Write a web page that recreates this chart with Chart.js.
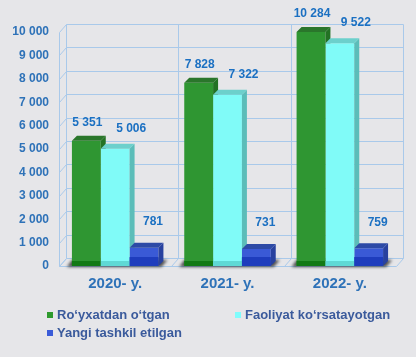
<!DOCTYPE html>
<html><head><meta charset="utf-8">
<script src="https://cdn.jsdelivr.net/npm/chart.js@4.4.1/dist/chart.umd.min.js"></script>
<style>html,body{margin:0;padding:0;background:#e6e6e9;overflow:hidden}#wrap{width:416px;height:357px}</style>
</head><body><div id="wrap"><canvas id="c" width="416" height="357"></canvas></div>
<script>
// ---- data ----
const categories = ['2020- y.', '2021- y.', '2022- y.'];
const seriesNames = ['Ro\u2018yxatdan o\u2018tgan', 'Faoliyat ko\u2018rsatayotgan', 'Yangi tashkil etilgan'];
const registered = [5351, 7828, 10284];
const active = [5006, 7322, 9522];
const newlyCreated = [781, 731, 759];
const yTicks = [0, 1000, 2000, 3000, 4000, 5000, 6000, 7000, 8000, 9000, 10000];

// ---- styles ----
const FONT = '"Liberation Sans", Arial, sans-serif';
const faces = [
  {front:'#2f9632', bottom:'#127914', top:'#2a762b', side:'#237224', legend:'#2e9a2e', strip:5},
  {front:'#80fbf8', bottom:'#5fd9d5', top:'#6cd0cc', side:'#5bbdb9', legend:'#80fcfc', strip:5},
  {front:'#3a5ad6', bottom:'#1e3dbd', top:'#2d4aa6', side:'#28419f', legend:'#3a5bd8', strip:9}
];
const labelDx = [1, 16, 9];
const labelDy = [18, 20, 26];
const DEPTH = {x:5, y:5};
const WALL = {x:7, y:8};
const GRID = '#a9c9ea';
const fmt = v => String(v).replace(/\B(?=(\d{3})+(?!\d))/g, ' ');

function crisp(v){ return Math.round(v) + 0.5; }

const threeD = {
  id: 'threeD',
  beforeDatasetsDraw(chart) {
    const ctx = chart.ctx, a = chart.chartArea;
    const xs = chart.scales.x, ys = chart.scales.y;
    ctx.save();
    ctx.strokeStyle = GRID; ctx.lineWidth = 1;
    const L = a.left, R = a.right;
    // horizontal lines on back wall + left wall diagonals
    yTicks.forEach(v => {
      const y = ys.getPixelForValue(v);
      ctx.beginPath();
      ctx.moveTo(crisp(L), crisp(y));
      ctx.lineTo(crisp(L + WALL.x), crisp(y - WALL.y));
      ctx.lineTo(crisp(R + WALL.x), crisp(y - WALL.y));
      ctx.stroke();
    });
    // front floor edge
    ctx.beginPath(); ctx.moveTo(crisp(L), crisp(a.bottom)); ctx.lineTo(crisp(R), crisp(a.bottom)); ctx.stroke();
    // left wall front vertical
    ctx.beginPath(); ctx.moveTo(crisp(L), crisp(a.top)); ctx.lineTo(crisp(L), crisp(a.bottom)); ctx.stroke();
    // category boundaries: back wall verticals + floor diagonals
    const n = categories.length;
    const step = (R - L) / n;
    for (let i = 0; i <= n; i++) {
      const xb = L + step * i;
      ctx.beginPath();
      ctx.moveTo(crisp(xb + WALL.x), crisp(a.top - WALL.y));
      ctx.lineTo(crisp(xb + WALL.x), crisp(a.bottom - WALL.y));
      ctx.stroke();
      ctx.beginPath();
      ctx.moveTo(crisp(xb), crisp(a.bottom));
      ctx.lineTo(crisp(xb + WALL.x), crisp(a.bottom - WALL.y));
      ctx.stroke();
    }
    // shadows under bar groups
    const m0 = chart.getDatasetMeta(0), m2 = chart.getDatasetMeta(2);
    ctx.filter = 'blur(1.5px)';
    ctx.fillStyle = 'rgba(30,30,30,0.75)';
    for (let i = 0; i < n; i++) {
      const g = m0.data[i], b = m2.data[i];
      const gL = g.x - g.width / 2, bR = b.x + b.width / 2, base = g.base;
      ctx.beginPath();
      ctx.moveTo(gL - 5, base + 1);
      ctx.lineTo(gL, base - 6);
      ctx.lineTo(bR + 9, base - 6);
      ctx.lineTo(bR + 3, base + 1);
      ctx.closePath();
      ctx.fill();
    }
    ctx.restore();
  },
  afterDatasetsDraw(chart) {
    const ctx = chart.ctx, a = chart.chartArea;
    const metas = [0, 1, 2].map(i => chart.getDatasetMeta(i));
    const n = categories.length;
    ctx.save();
    for (let c = 0; c < n; c++) {
      for (let d = 0; d < 3; d++) {
        const el = metas[d].data[c];
        const f = faces[d];
        const l = el.x - el.width / 2, r = el.x + el.width / 2;
        const top = Math.max(el.y, a.top), base = el.base;
        // bottom darker strip on front face
        ctx.fillStyle = f.bottom;
        ctx.fillRect(l, base - f.strip, r - l, f.strip);
        ctx.save();
        if (d < 2) {
          const nx = metas[d + 1].data[c];
          const nl = nx.x - nx.width / 2, nr = nx.x + nx.width / 2;
          const nt = Math.max(nx.y, a.top);
          ctx.beginPath();
          ctx.rect(0, 0, chart.width, chart.height);
          ctx.rect(nl, nt, nr - nl, nx.base - nt);
          ctx.clip('evenodd');
        }
        // side face
        ctx.fillStyle = f.side;
        ctx.beginPath();
        ctx.moveTo(r, top);
        ctx.lineTo(r + DEPTH.x, top - DEPTH.y);
        ctx.lineTo(r + DEPTH.x, base - DEPTH.y);
        ctx.lineTo(r, base);
        ctx.closePath();
        ctx.fill();
        // top face
        ctx.fillStyle = f.top;
        ctx.beginPath();
        ctx.moveTo(l, top);
        ctx.lineTo(l + DEPTH.x, top - DEPTH.y);
        ctx.lineTo(r + DEPTH.x, top - DEPTH.y);
        ctx.lineTo(r, top);
        ctx.closePath();
        ctx.fill();
        ctx.restore();
      }
    }
    // value labels
    ctx.font = 'bold 12px ' + FONT;
    ctx.fillStyle = '#1b70c2';
    ctx.textAlign = 'center';
    ctx.textBaseline = 'middle';
    for (let d = 0; d < 3; d++) {
      const ds = chart.data.datasets[d];
      metas[d].data.forEach((el, i) => {
        const top = Math.max(el.y, a.top);
        ctx.fillText(fmt(ds.data[i]), el.x + labelDx[d], top - labelDy[d]);
      });
    }
    ctx.restore();
  },
  afterDraw(chart) {
    const ctx = chart.ctx;
    const pos = [[47, 315], [235, 315], [47, 333]];
    ctx.save();
    ctx.font = 'bold 13px ' + FONT;
    ctx.textBaseline = 'middle';
    ctx.textAlign = 'left';
    chart.data.datasets.forEach((ds, i) => {
      const [x, y] = pos[i];
      ctx.fillStyle = faces[i].legend;
      ctx.fillRect(x, y - 3, 6, 6);
      ctx.fillStyle = '#3a5a9c';
      ctx.fillText(ds.label, x + 10, y);
    });
    ctx.restore();
  }
};

const mk = (i, data) => ({
  label: seriesNames[i], data,
  backgroundColor: faces[i].front,
  borderWidth: 0, clip: 0,
  categoryPercentage: 0.77, barPercentage: 1
});

new Chart(document.getElementById('c'), {
  type: 'bar',
  data: {
    labels: categories,
    datasets: [mk(0, registered), mk(1, active), mk(2, newlyCreated)]
  },
  options: {
    responsive: false, animation: false, devicePixelRatio: 1,
    layout: { padding: { top: 32, right: 20, left: 0, bottom: 0 } },
    plugins: { legend: { display: false }, tooltip: { enabled: false } },
    scales: {
      x: {
        grid: { display: false, drawTicks: false }, border: { display: false },
        ticks: { color: '#2e72b8', font: { family: FONT, size: 15, weight: 'bold' }, padding: 9, maxRotation: 0 },
        afterFit(s) { s.height = 91; }
      },
      y: {
        min: 0, max: 10000,
        afterBuildTicks(s) { s.ticks = yTicks.map(v => ({ value: v })); },
        grid: { display: false, drawTicks: false }, border: { display: false },
        ticks: { color: '#2e72b8', font: { family: FONT, size: 12, weight: 'bold' }, padding: 10, callback: v => fmt(v) },
        afterFit(s) { s.width = 59; }
      }
    }
  },
  plugins: [threeD]
});
</script>
</body></html>
